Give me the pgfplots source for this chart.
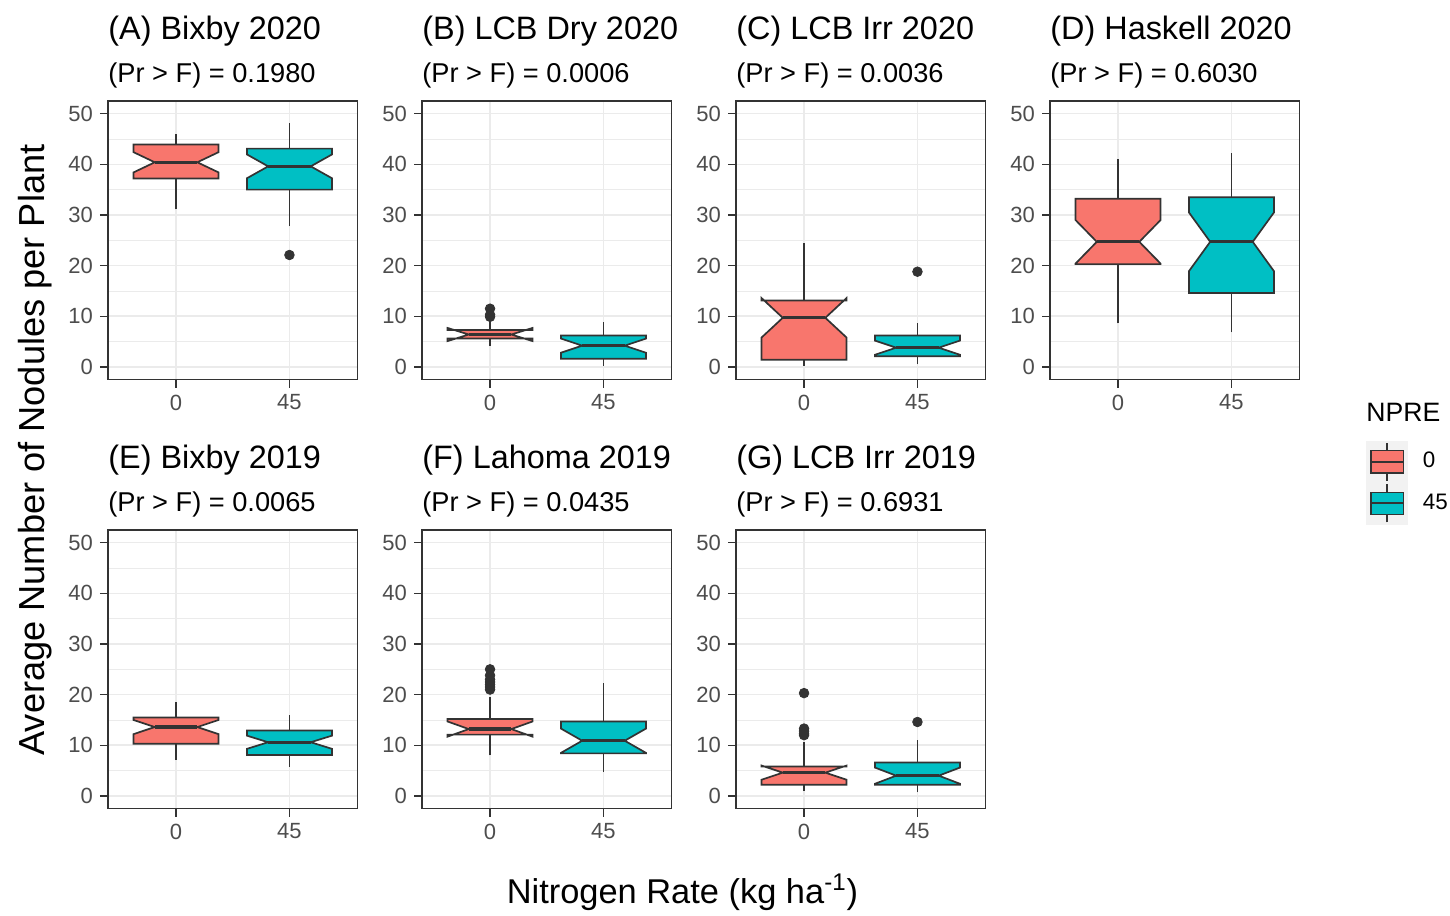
\documentclass[border=0pt]{standalone}
\usepackage{fontspec}
\setmainfont{Liberation Sans}
\usepackage{pgfplots}
\pgfplotsset{compat=1.18}

\definecolor{npred}{HTML}{F8766D}
\definecolor{npteal}{HTML}{00BFC4}
\definecolor{gray20}{HTML}{333333}
\definecolor{gray30}{HTML}{4D4D4D}
\definecolor{gray92}{HTML}{EBEBEB}
\definecolor{gray95}{HTML}{F2F2F2}

% one panel: two notched boxes at x = 1 (0 kg/ha) and x = 2 (45 kg/ha)
\pgfplotsset{
  panel/.style={
    scale only axis, width=124.75pt, height=139.3pt,
    xmin=0.4, xmax=2.6, ymin=-2.5, ymax=52.5,
    xtick={1,2}, xticklabels={0,45},
    ytick={0,10,...,50}, minor ytick={5,15,...,45},
    grid=both,
    major grid style={gray92, line width=0.8pt},
    minor grid style={gray92, line width=0.45pt},
    axis line style={gray20, line width=0.85pt},
    tick pos=left, tick align=outside,
    major tick style={gray20, line width=0.7pt},
    major tick length=4pt, minor tick length=0pt,
    tick label style={font=\fontsize{11}{13}\selectfont, text=gray30},
    /pgf/number format/assume math mode=true,
  },
}

% \nbox{x}{fill}{whisker low}{Q1}{notch low}{median}{notch high}{Q3}{whisker high}
\newcommand{\nbox}[9]{%
  \pgfmathsetmacro\xa{#1-0.375}\pgfmathsetmacro\xb{#1-0.1875}%
  \pgfmathsetmacro\xc{#1+0.1875}\pgfmathsetmacro\xd{#1+0.375}%
  \edef\doplot{%
    \noexpand\addplot[draw=gray20, line width=0.8pt, forget plot] coordinates {(#1,#3) (#1,#4)};
    \noexpand\addplot[draw=gray20, line width=0.8pt, forget plot] coordinates {(#1,#8) (#1,#9)};
    \noexpand\addplot[fill=#2, draw=gray20, line width=0.85pt, forget plot] coordinates {(\xa,#8) (\xa,#7) (\xb,#6) (\xa,#5) (\xa,#4) (\xd,#4) (\xd,#5) (\xc,#6) (\xd,#7) (\xd,#8)} -- cycle;
    \noexpand\addplot[draw=gray20, line width=1.6pt, forget plot] coordinates {(\xb,#6) (\xc,#6)};
  }\doplot}
\newcommand{\outl}[1]{\addplot[only marks, mark=*, mark size=2.4pt, gray20, forget plot] coordinates {#1};}

\newcommand{\ptitle}[4]{%
  \node[anchor=base west, font=\fontsize{16.2}{19}\selectfont, inner sep=0pt] at (#1,#2) {#3};
  \node[anchor=base west, font=\fontsize{13.6}{16}\selectfont, inner sep=0pt] at (#1,{#2-21.6pt}) {#4};}

\begin{document}
\begin{tikzpicture}
\useasboundingbox (0,0) rectangle (725pt,-457.5pt);

% ---- top row ----
\begin{axis}[panel, at={(54pt,-50.5pt)}, anchor=north west]
  \nbox{1}{npred}{31.1}{37.2}{38.4}{40.4}{42.4}{43.9}{45.9}
  \nbox{2}{npteal}{27.8}{35.0}{37.25}{39.6}{41.95}{43.1}{48.1}
  \outl{(2,22.1)}
\end{axis}
\ptitle{54pt}{-19.75pt}{(A) Bixby 2020}{(Pr > F) = 0.1980}

\begin{axis}[panel, at={(211pt,-50.5pt)}, anchor=north west]
  \nbox{1}{npred}{4.2}{5.6}{5.1}{6.4}{7.7}{7.3}{9.0}
  \nbox{2}{npteal}{0.2}{1.6}{2.8}{4.2}{5.6}{6.2}{8.9}
  \outl{(1,9.9) (1,10.3) (1,11.5)}
\end{axis}
\ptitle{211pt}{-19.75pt}{(B) LCB Dry 2020}{(Pr > F) = 0.0006}

\begin{axis}[panel, at={(368pt,-50.5pt)}, anchor=north west]
  \nbox{1}{npred}{0.2}{1.4}{5.8}{9.7}{13.6}{13.1}{24.4}
  \nbox{2}{npteal}{0.5}{2.1}{2.4}{3.8}{5.2}{6.2}{8.6}
  \outl{(2,18.8)}
\end{axis}
\ptitle{368pt}{-19.75pt}{(C) LCB Irr 2020}{(Pr > F) = 0.0036}

\begin{axis}[panel, at={(525pt,-50.5pt)}, anchor=north west,
  legend cell align=left,
  legend style={at={(1.2665,-0.2195)}, anchor=north west, draw=none, fill=none,
    inner sep=0pt, outer sep=0pt, row sep=0pt,
    nodes={inner sep=0pt, font=\fontsize{11.2}{13}\selectfont, text=black},
    /tikz/every odd column/.append style={column sep=7.5pt}}]
  \nbox{1}{npred}{8.6}{20.3}{20.4}{24.7}{29.0}{33.2}{41.1}
  \nbox{2}{npteal}{6.8}{14.6}{18.9}{24.7}{30.5}{33.5}{42.3}
  \addlegendimage{legend image code/.code={
    \fill[gray95] (0pt,-10.25pt) rectangle (20.5pt,10.25pt);
    \draw[gray20, line width=0.6pt] (10.25pt,-9.5pt) -- (10.25pt,9.5pt);
    \filldraw[fill=npred, draw=gray20, line width=0.7pt] (2.35pt,-5.6pt) rectangle (18.65pt,5.6pt);
    \draw[gray20, line width=1pt] (2.35pt,0pt) -- (18.65pt,0pt);}}
  \addlegendentry{0}
  \addlegendimage{legend image code/.code={
    \fill[gray95] (0pt,-10.25pt) rectangle (20.5pt,10.25pt);
    \draw[gray20, line width=0.6pt] (10.25pt,-9.5pt) -- (10.25pt,9.5pt);
    \filldraw[fill=npteal, draw=gray20, line width=0.7pt] (2.35pt,-5.6pt) rectangle (18.65pt,5.6pt);
    \draw[gray20, line width=1pt] (2.35pt,0pt) -- (18.65pt,0pt);}}
  \addlegendentry{45}
\end{axis}
\ptitle{525pt}{-19.75pt}{(D) Haskell 2020}{(Pr > F) = 0.6030}

% ---- bottom row ----
\begin{axis}[panel, at={(54pt,-265pt)}, anchor=north west]
  \nbox{1}{npred}{7.1}{10.3}{12.2}{13.6}{15.0}{15.5}{18.5}
  \nbox{2}{npteal}{5.8}{8.1}{9.3}{10.6}{11.9}{12.9}{15.9}
\end{axis}
\ptitle{54pt}{-234.15pt}{(E) Bixby 2019}{(Pr > F) = 0.0065}

\begin{axis}[panel, at={(211pt,-265pt)}, anchor=north west]
  \nbox{1}{npred}{8.0}{12.1}{11.7}{13.2}{14.7}{15.2}{19.6}
  \nbox{2}{npteal}{4.7}{8.4}{8.5}{10.9}{13.3}{14.7}{22.2}
  \outl{(1,21.0) (1,21.5) (1,22.0) (1,22.5) (1,23.0) (1,23.8) (1,25.0)}
\end{axis}
\ptitle{211pt}{-234.15pt}{(F) Lahoma 2019}{(Pr > F) = 0.0435}

\begin{axis}[panel, at={(368pt,-265pt)}, anchor=north west]
  \nbox{1}{npred}{1.0}{2.2}{3.2}{4.6}{6.0}{5.8}{10.7}
  \nbox{2}{npteal}{0.7}{2.2}{2.4}{4.0}{5.6}{6.6}{11.1}
  \outl{(1,12.0) (1,12.3) (1,12.8) (1,13.3) (1,20.3)}
  \outl{(2,14.6)}
\end{axis}
\ptitle{368pt}{-234.15pt}{(G) LCB Irr 2019}{(Pr > F) = 0.6931}

% legend title and shared axis titles
\node[anchor=base west, font=\fontsize{13.3}{16}\selectfont, inner sep=0pt] at (683pt,-210.5pt) {NPRE};
\node[rotate=90, anchor=base, font=\fontsize{18.1}{21}\selectfont, inner sep=0pt] at (22pt,-225pt) {Average Number of Nodules per Plant};
\node[anchor=base, font=\fontsize{17.2}{20}\selectfont, inner sep=0pt] at (341.25pt,-451.5pt) {Nitrogen Rate (kg ha\textsuperscript{-1})};
\end{tikzpicture}
\end{document}
